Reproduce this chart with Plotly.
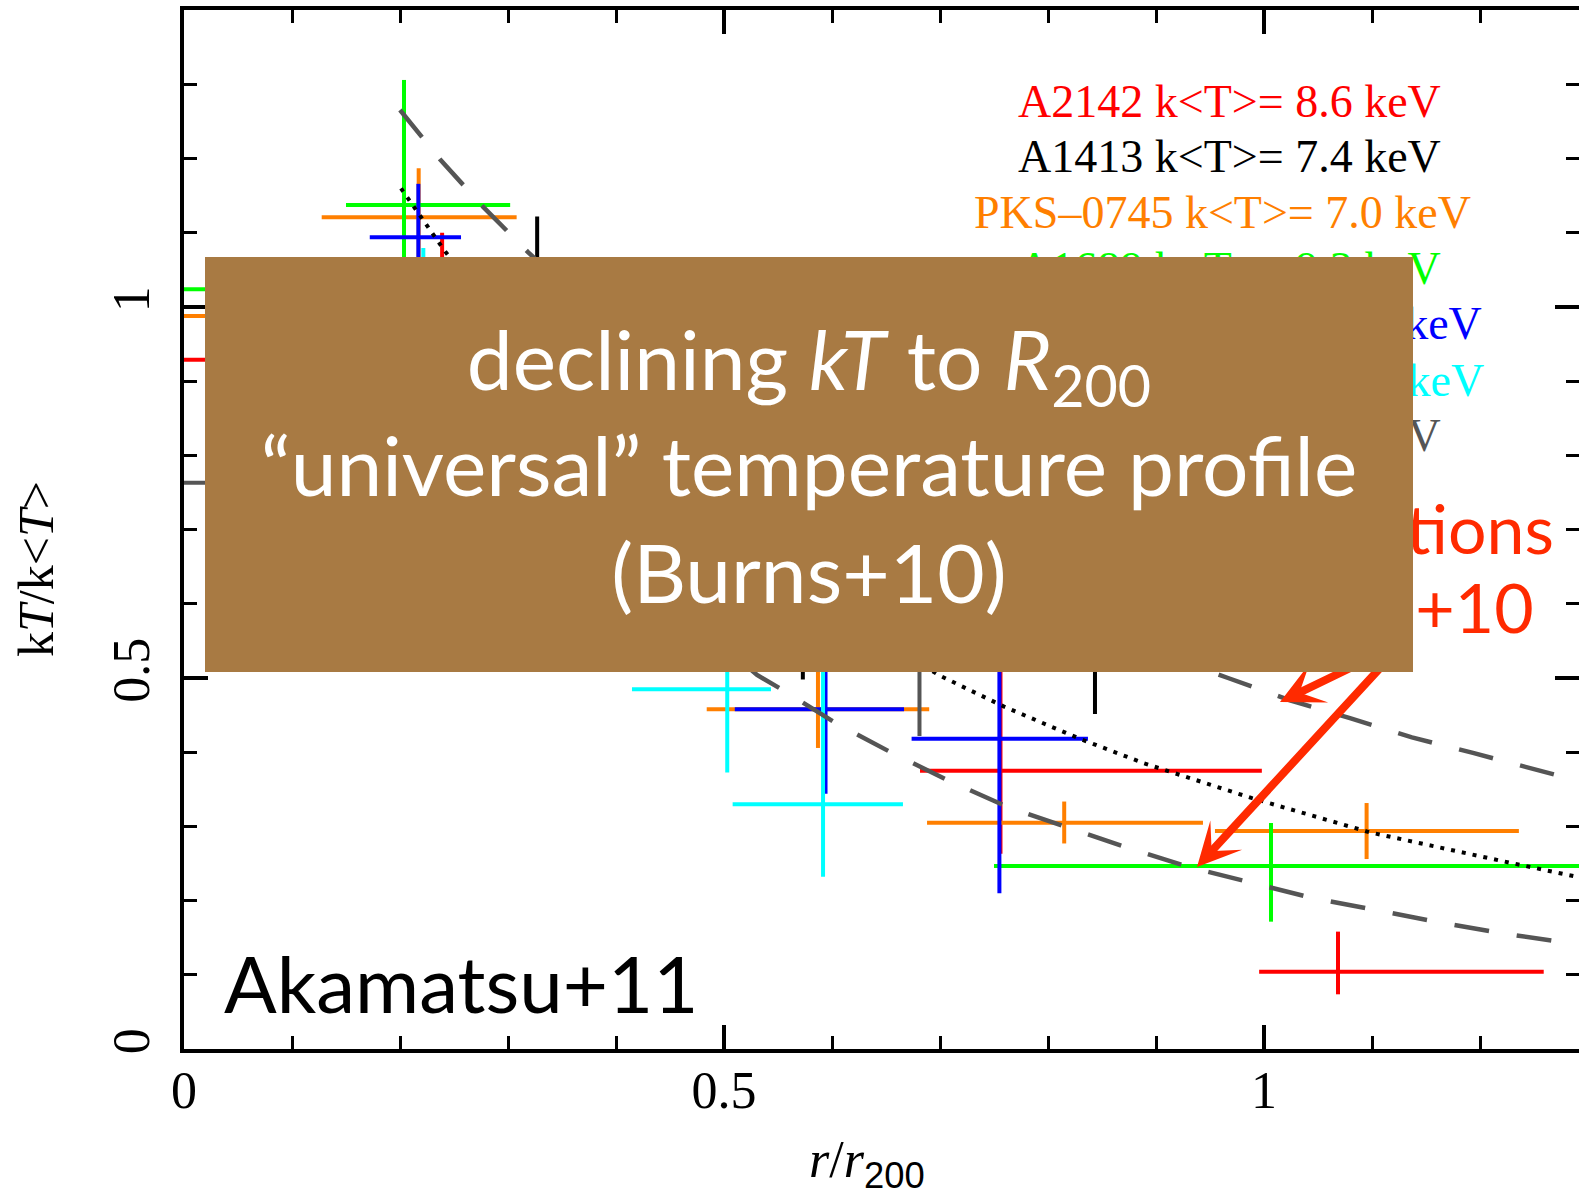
import plotly.graph_objects as go

# ---------------- data ----------------
# A2142 (red)
a2142_r    = [0.06, 0.239, 0.756, 1.0685]
a2142_rlo  = [0.06, 0.07, 0.0745, 0.073]
a2142_rhi  = [0.06, 0.07, 0.242, 0.1905]
a2142_t    = [0.929, 0.98, 0.375, 0.1042]
a2142_tlo  = [0.05, 0.12, 0.112, 0.0305]
a2142_thi  = [0.05, 0.12, 0.16, 0.054]

# A1413 (black)
a1413_r    = [0.327, 0.573, 0.8435]
a1413_rlo  = [0.07, 0.09, 0.09]
a1413_rhi  = [0.07, 0.09, 0.09]
a1413_t    = [1.0, 0.56, 0.56]
a1413_tlo  = [0.12, 0.062, 0.1085]
a1413_thi  = [0.122, 0.062, 0.1]

# PKS-0745 (orange)
pks_r      = [0.06, 0.2173, 0.587, 0.815, 1.095]
pks_rlo    = [0.06, 0.0898, 0.103, 0.127, 0.1404]
pks_rhi    = [0.06, 0.0907, 0.103, 0.1285, 0.141]
pks_t      = [0.988, 1.121, 0.458, 0.305, 0.2938]
pks_tlo    = [0.05, 0.066, 0.0523, 0.028, 0.0378]
pks_thi    = [0.05, 0.066, 0.0523, 0.0285, 0.0377]

# A1689 (green)
a1689_r    = [0.06, 0.2037, 1.0065]
a1689_rlo  = [0.06, 0.0537, 0.2565]
a1689_rhi  = [0.06, 0.0983, 0.35]
a1689_t    = [1.024, 1.1375, 0.2466]
a1689_tlo  = [0.03, 0.17, 0.075]
a1689_thi  = [0.03, 0.1685, 0.058]

# blue cluster
blue_r     = [0.217, 0.594, 0.755]
blue_rlo   = [0.045, 0.084, 0.0813]
blue_rhi   = [0.0395, 0.0727, 0.082]
blue_t     = [1.094, 0.458, 0.418]
blue_tlo   = [0.072, 0.114, 0.208]
blue_thi   = [0.072, 0.114, 0.208]

# cyan cluster
cyan_r     = [0.2216, 0.503, 0.5917]
cyan_rlo   = [0.05, 0.0882, 0.0837]
cyan_rhi   = [0.05, 0.0405, 0.074]
cyan_t     = [0.98, 0.4848, 0.3298]
cyan_tlo   = [0.1, 0.112, 0.0975]
cyan_thi   = [0.0995, 0.112, 0.2]

# gray cluster
gray_r     = [0.06, 0.681]
gray_rlo   = [0.06, 0.08]
gray_rhi   = [0.06, 0.08]
gray_t     = [0.763, 0.53]
gray_tlo   = [0.05, 0.108]
gray_thi   = [0.05, 0.108]

# model curves (Burns+10 universal profile and its scatter)
dotted_r = [0.2009, 0.2407, 0.3, 0.4, 0.5, 0.6, 0.70, 0.760, 0.8296, 0.889, 0.989, 1.098, 1.228, 1.290]
dotted_t = [1.160, 1.077, 0.965, 0.81, 0.69, 0.59, 0.503, 0.461, 0.418, 0.385, 0.338, 0.292, 0.251, 0.232]

upper_r = [0.2, 0.237, 0.277, 0.3185, 0.4, 0.5, 0.6, 0.7, 0.8, 0.9, 0.9667, 1.024, 1.0796, 1.137, 1.1935, 1.251, 1.2815, 1.29]
upper_t = [1.2655, 1.199, 1.135, 1.074, 0.964, 0.848, 0.749, 0.666, 0.595, 0.535, 0.500, 0.470, 0.446, 0.420, 0.399, 0.376, 0.365, 0.362]

lower_r = [0.2, 0.3, 0.4, 0.47, 0.5306, 0.553, 0.6037, 0.6556, 0.709, 0.763, 0.819, 0.874, 0.931, 0.989, 1.045, 1.105, 1.161, 1.220, 1.279, 1.29]
lower_t = [1.00, 0.83, 0.68, 0.58, 0.504, 0.485, 0.439, 0.399, 0.361, 0.326, 0.298, 0.271, 0.245, 0.224, 0.2035, 0.187, 0.171, 0.156, 0.143, 0.141]

legend_labels = ["A2142 k<T>= 8.6 keV", "A1413 k<T>= 7.4 keV", "PKS\u20130745 k<T>= 7.0 keV",
                 "A1689 k<T>= 9.3 keV", "A2204 k<T>= 8.5 keV", "Hydra A k<T>= 3.0 keV",
                 "A1795 k<T>= 5.3 keV"]

x_ticks = [0, 0.5, 1]
y_ticks = [0, 0.5, 1]

# ---------------- figure ----------------
W, H = 1579, 1192
L, R, T, B = 184, 0, 10, 143
X0PX, X1PX, Y0PX, Y1PX = 184, 1579, 1049, 10
XSCALE = 1080.0   # px per unit r/r200
YSCALE = 742.0    # px per unit kT/k<T>
XMAX = (X1PX - X0PX) / XSCALE
YMAX = (Y0PX - Y1PX) / YSCALE

def dx(p):
    return (p - X0PX) / XSCALE

def dy(p):
    return (Y0PX - p) / YSCALE

RED, BLACK, ORANGE, GREEN = "#FF0000", "#000000", "#FF7F00", "#00FF00"
BLUE, CYAN, GRAY = "#0000FF", "#00FFFF", "#555555"
SERIF = "Liberation Serif, Times New Roman, serif"
SANS = "Lato, Noto Sans, sans-serif"

fig = go.Figure()

series = [
    (a2142_r, a2142_rlo, a2142_rhi, a2142_t, a2142_tlo, a2142_thi, RED),
    (a1413_r, a1413_rlo, a1413_rhi, a1413_t, a1413_tlo, a1413_thi, BLACK),
    (pks_r, pks_rlo, pks_rhi, pks_t, pks_tlo, pks_thi, ORANGE),
    (a1689_r, a1689_rlo, a1689_rhi, a1689_t, a1689_tlo, a1689_thi, GREEN),
    (blue_r, blue_rlo, blue_rhi, blue_t, blue_tlo, blue_thi, BLUE),
    (cyan_r, cyan_rlo, cyan_rhi, cyan_t, cyan_tlo, cyan_thi, CYAN),
    (gray_r, gray_rlo, gray_rhi, gray_t, gray_tlo, gray_thi, GRAY),
]
for r, rlo, rhi, t, tlo, thi, col in series:
    fig.add_trace(go.Scatter(
        x=r, y=t, mode="markers",
        marker=dict(size=1, color=col, opacity=0),
        error_x=dict(type="data", symmetric=False, array=rhi, arrayminus=rlo,
                     color=col, thickness=4, width=0),
        error_y=dict(type="data", symmetric=False, array=thi, arrayminus=tlo,
                     color=col, thickness=4, width=0),
        showlegend=False, hoverinfo="skip"))

fig.add_trace(go.Scatter(x=upper_r, y=upper_t, mode="lines",
                         line=dict(color=GRAY, width=4.5, dash="35px,28px"),
                         showlegend=False, hoverinfo="skip"))
fig.add_trace(go.Scatter(x=lower_r, y=lower_t, mode="lines",
                         line=dict(color=GRAY, width=4.5, dash="35px,28px"),
                         showlegend=False, hoverinfo="skip"))
fig.add_trace(go.Scatter(x=dotted_r, y=dotted_t, mode="lines",
                         line=dict(color=BLACK, width=4, dash="4px,7px"),
                         showlegend=False, hoverinfo="skip"))

annotations = []
# legend texts
leg_colors = [RED, BLACK, ORANGE, GREEN, BLUE, CYAN, GRAY]
leg_right = [1443, 1443, 1473, 1443, 1484, 1486, 1443]
leg_cy = [101, 156, 212, 268, 323, 380, 435]
for lab, col, xr, yc in zip(legend_labels, leg_colors, leg_right, leg_cy):
    annotations.append(dict(
        x=dx(xr), y=dy(yc), xref="x", yref="y", xanchor="right", yanchor="middle",
        text=lab.replace("<", "&lt;").replace(">", "&gt;"), showarrow=False,
        font=dict(family=SERIF, size=46, color=col)))

# red text (partly hidden)
RED2 = "#FF2A00"
annotations.append(dict(x=dx(1556), y=dy(527), xref="x", yref="y", xanchor="right",
                        yanchor="middle", text="simulations", showarrow=False,
                        font=dict(family=SANS, size=68, color=RED2)))
annotations.append(dict(x=dx(1536), y=dy(606), xref="x", yref="y", xanchor="right",
                        yanchor="middle", text="Burns+10", showarrow=False,
                        font=dict(family=SANS, size=68, color=RED2)))
# arrows
tail = (dx(1404), dy(642))
for tip in [(dx(1197), dy(867)), (dx(1280), dy(702))]:
    annotations.append(dict(x=tip[0], y=tip[1], xref="x", yref="y",
                            ax=tail[0], ay=tail[1], axref="x", ayref="y",
                            text="", showarrow=True, arrowhead=3, arrowsize=0.9,
                            arrowwidth=8, arrowcolor=RED2, standoff=0))
# overlay box
annotations.append(dict(
    x=dx(809), y=dy(464.5), xref="x", yref="y", xanchor="center", yanchor="middle",
    text="declining <i>kT</i> to <i>R</i><sub>200</sub><br>\u201cuniversal\u201d temperature profile<br>(Burns+10)",
    showarrow=False, width=1208, height=415, bgcolor="#A87A43", borderpad=0,
    borderwidth=0, align="center", valign="middle",
    font=dict(family=SANS, size=82, color="white")))
# Akamatsu+11
annotations.append(dict(x=dx(222), y=dy(983), xref="x", yref="y", xanchor="left",
                        yanchor="middle", text="Akamatsu+11", showarrow=False,
                        font=dict(family=SANS, size=78, color="black")))
# axis titles
annotations.append(dict(x=(867 - L) / (W - L - R), y=(Y0PX - 1163) / (Y0PX - Y1PX),
                        xref="paper", yref="paper", xanchor="center", yanchor="middle",
                        text="<i>r</i>/<i>r</i><sub><span style=\"font-family:Liberation Sans\">200</span></sub>",
                        showarrow=False, font=dict(family=SERIF, size=52, color="black")))
annotations.append(dict(x=(36 - L) / (W - L - R), y=(Y0PX - 569) / (Y0PX - Y1PX),
                        xref="paper", yref="paper", xanchor="center", yanchor="middle",
                        text="k<i>T</i>/k&lt;<i>T</i>&gt;", textangle=-90,
                        showarrow=False, font=dict(family=SERIF, size=50, color="black")))

axis_common = dict(showgrid=False, zeroline=False, ticks="inside", tickwidth=4,
                   ticklen=24, tickcolor="black", linecolor="black", linewidth=4,
                   tickfont=dict(family=SERIF, size=52, color="black"))

fig.update_layout(
    width=W, height=H, margin=dict(l=L, r=R, t=T, b=B, pad=0),
    paper_bgcolor="white", plot_bgcolor="white",
    xaxis=dict(range=[0, XMAX], tickvals=x_ticks, ticktext=["0", "0.5", "1"],
               showline=True, mirror="ticks", ticklabelstandoff=-7,
               minor=dict(dtick=0.1, tick0=0, ticks="inside", ticklen=13, tickwidth=3,
                          tickcolor="black"),
               **axis_common),
    yaxis=dict(range=[0, YMAX], tickvals=y_ticks, ticktext=["0", "0.5", "1"],
               showline=True, mirror=False, tickangle=-90, ticklabelstandoff=10,
               minor=dict(dtick=0.1, tick0=0, ticks="inside", ticklen=13, tickwidth=3,
                          tickcolor="black"),
               **axis_common),
    yaxis2=dict(range=[0, YMAX], overlaying="y", side="right", tickvals=y_ticks,
                showticklabels=False, showline=False, showgrid=False, zeroline=False,
                ticks="inside", ticklen=24, tickwidth=4, tickcolor="black",
                minor=dict(dtick=0.1, tick0=0, ticks="inside", ticklen=13, tickwidth=3,
                           tickcolor="black")),
    annotations=annotations,
    showlegend=False,
)
fig.add_trace(go.Scatter(x=[0.5], y=[0.5], yaxis="y2", mode="markers",
                         marker=dict(opacity=0), showlegend=False, hoverinfo="skip"))

fig.write_html("out.html", config={"displayModeBar": False},
               post_script="document.body.style.margin='0';document.body.style.overflow='hidden';")
